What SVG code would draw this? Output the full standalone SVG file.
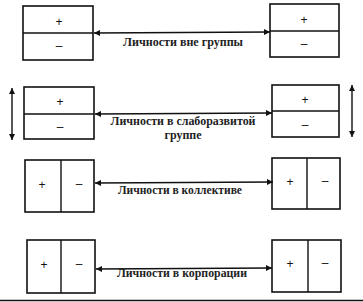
<svg xmlns="http://www.w3.org/2000/svg" width="363" height="302" viewBox="0 0 363 302">
<style>
.box{fill:#fff;stroke:#111;stroke-width:1.6}
.div{stroke:#111;stroke-width:1.4}
.sym{font-family:"Liberation Sans",Arial,sans-serif;font-size:12px;fill:#111;text-anchor:middle}
.lbl{font-family:"Liberation Serif","Times New Roman",serif;font-size:11.5px;font-weight:bold;fill:#222;text-anchor:middle}
.con{stroke:#111;stroke-width:1.4;fill:none}
</style>
<defs>
<marker id="ah" viewBox="0 0 10 10" refX="10" refY="5" markerWidth="8" markerHeight="6" markerUnits="userSpaceOnUse" orient="auto-start-reverse">
<path d="M0,0 L10,5 L0,10 z" fill="#111"/>
</marker>
</defs>
<rect width="363" height="302" fill="#fff"/>
<g id="n1L"><rect class="box" x="23" y="6" width="70" height="54"/><line class="div" x1="23" y1="33" x2="93" y2="33"/><text class="sym" x="59" y="26">+</text><text class="sym" x="59" y="50">–</text></g>
<g id="n1R"><rect class="box" x="270" y="4" width="69" height="53"/><line class="div" x1="270" y1="31" x2="339" y2="31"/><text class="sym" x="304" y="24">+</text><text class="sym" x="304" y="48">–</text></g>
<g id="n2L"><rect class="box" x="24" y="87" width="70" height="52"/><line class="div" x1="24" y1="114" x2="94" y2="114"/><text class="sym" x="60" y="106">+</text><text class="sym" x="60" y="131">–</text></g>
<g id="n2R"><rect class="box" x="272" y="85" width="67" height="52"/><line class="div" x1="272" y1="111" x2="339" y2="111"/><text class="sym" x="305" y="104">+</text><text class="sym" x="305" y="129">–</text></g>
<g id="n3L"><rect class="box" x="25" y="160" width="69" height="52"/><line class="div" x1="61" y1="160" x2="61" y2="212"/><text class="sym" x="42" y="189">+</text><text class="sym" x="79" y="188">–</text></g>
<g id="n3R"><rect class="box" x="272" y="158" width="68" height="51"/><line class="div" x1="307" y1="158" x2="307" y2="209"/><text class="sym" x="290" y="186">+</text><text class="sym" x="325" y="185">–</text></g>
<g id="n4L"><rect class="box" x="27" y="240" width="68" height="53"/><line class="div" x1="61" y1="240" x2="61" y2="293"/><text class="sym" x="44" y="269">+</text><text class="sym" x="79" y="268">–</text></g>
<g id="n4R"><rect class="box" x="272" y="240" width="69" height="52"/><line class="div" x1="308" y1="240" x2="308" y2="292"/><text class="sym" x="290" y="268">+</text><text class="sym" x="325" y="267">–</text></g>
<g id="connectors">
<line class="con" x1="94" y1="33" x2="270" y2="32" marker-start="url(#ah)" marker-end="url(#ah)"/>
<line class="con" x1="95" y1="114" x2="272" y2="113" marker-start="url(#ah)" marker-end="url(#ah)"/>
<line class="con" x1="95" y1="183" x2="273" y2="182" marker-start="url(#ah)" marker-end="url(#ah)"/>
<line class="con" x1="96" y1="269" x2="272" y2="268" marker-start="url(#ah)" marker-end="url(#ah)"/>
<line class="con" x1="12" y1="88" x2="12" y2="140" marker-start="url(#ah)" marker-end="url(#ah)"/>
<line class="con" x1="352" y1="85" x2="352" y2="137" marker-start="url(#ah)" marker-end="url(#ah)"/>
</g>
<g id="labels">
<text class="lbl" x="183" y="46" textLength="120" lengthAdjust="spacingAndGlyphs">Личности вне группы</text>
<text class="lbl" x="183" y="125" textLength="145" lengthAdjust="spacingAndGlyphs">Личности в слаборазвитой</text>
<text class="lbl" x="183" y="139" textLength="37" lengthAdjust="spacingAndGlyphs">группе</text>
<text class="lbl" x="180" y="194" textLength="124" lengthAdjust="spacingAndGlyphs">Личности в коллективе</text>
<text class="lbl" x="182" y="277" textLength="130" lengthAdjust="spacingAndGlyphs">Личности в корпорации</text>
</g>
<line x1="0" y1="300.5" x2="363" y2="300.5" stroke="#111" stroke-width="1.5"/>
</svg>
